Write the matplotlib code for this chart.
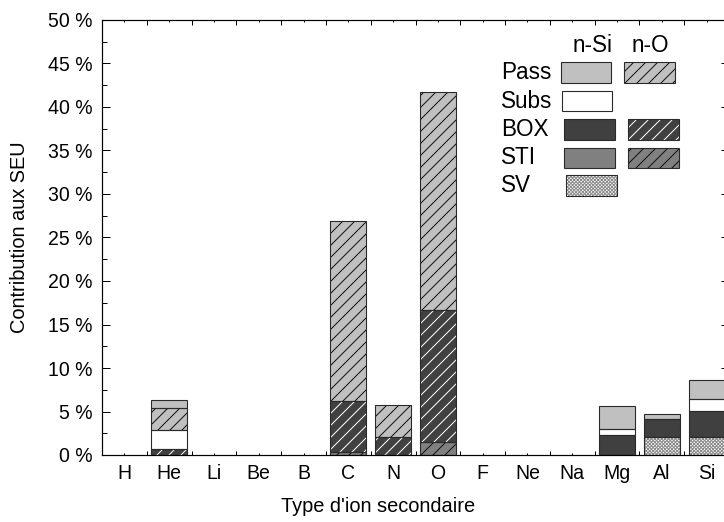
import numpy as np
import matplotlib
matplotlib.use("Agg")
import matplotlib.pyplot as plt
from matplotlib.patches import Rectangle

plt.rcParams['font.family'] = ['Liberation Sans', 'DejaVu Sans']
plt.rcParams['hatch.linewidth'] = 1.0

# ions secondaires (axe x)
ions = ['H', 'He', 'Li', 'Be', 'B', 'C', 'N', 'O', 'F', 'Ne', 'Na', 'Mg', 'Al', 'Si']

# contributions en %, empilées de bas en haut dans cet ordre
sv_si   = [0, 0,    0, 0, 0, 0,     0,    0,     0, 0, 0, 0,    2.1,  2.03]
sti_o   = [0, 0,    0, 0, 0, 0.3,   0,    1.46,  0, 0, 0, 0,    0,    0]
box_o   = [0, 0.65, 0, 0, 0, 5.94,  2.1,  15.24, 0, 0, 0, 0,    0,    0]
box_si  = [0, 0,    0, 0, 0, 0,     0,    0,     0, 0, 0, 2.26, 2.0,  3.03]
subs_si = [0, 2.22, 0, 0, 0, 0,     0,    0,     0, 0, 0, 0.69, 0,    1.34]
pass_o  = [0, 2.5,  0, 0, 0, 20.69, 3.65, 25.0,  0, 0, 0, 0,    0,    0]
pass_si = [0, 0.95, 0, 0, 0, 0,     0,    0,     0, 0, 0, 2.72, 0.58, 2.22]

# style : (couleur de fond, hachure, couleur de hachure)
styles = {
    'pass_si': ('#c0c0c0', None, '#c0c0c0'),
    'pass_o':  ('#c0c0c0', '//', '#111111'),
    'subs_si': ('#ffffff', None, '#ffffff'),
    'box_si':  ('#404040', None, '#404040'),
    'box_o':   ('#404040', '//', '#ffffff'),
    'sti_si':  ('#808080', None, '#808080'),
    'sti_o':   ('#808080', '//', '#111111'),
    'sv_si':   ('#ffffff', 'xxxxxxx', '#8c8c8c'),
}
series = [('sv_si', sv_si), ('sti_o', sti_o), ('box_o', box_o), ('box_si', box_si),
          ('subs_si', subs_si), ('pass_o', pass_o), ('pass_si', pass_si)]

W, H = 724, 522
fig = plt.figure(figsize=(W / 72, H / 72), dpi=72)
ax = fig.add_axes([102 / W, 1 - 455 / H, 627 / W, 435 / H])

x = np.arange(len(ions))
bottom = np.zeros(len(ions))
for name, vals in series:
    vals = np.array(vals, dtype=float)
    m = vals > 0
    fc, hatch, hc = styles[name]
    ax.bar(x[m], vals[m], 0.8, bottom=bottom[m], color=fc, hatch=hatch,
           edgecolor=hc, linewidth=0, zorder=2)
    ax.bar(x[m], vals[m], 0.8, bottom=bottom[m], fill=False,
           edgecolor='#2a2a2a', linewidth=1.1, zorder=3)
    bottom += vals

ax.set_xlim(-0.5, 13.5)
ax.set_ylim(0, 50)
ax.set_xticks(x)
ax.set_xticklabels(ions)
ax.set_xticks(np.arange(-0.5, 14, 1), minor=True)
ax.set_yticks(np.arange(0, 51, 5))
ax.set_yticklabels(['%d %%' % v for v in range(0, 51, 5)])
ax.set_yticks(np.arange(2.5, 50, 5), minor=True)

ax.tick_params(axis='x', which='major', direction='in', length=2, width=1,
               top=True, labelsize=19.5, pad=9)
ax.tick_params(axis='x', which='minor', direction='in', length=4.5, width=1, top=True)
ax.tick_params(axis='y', which='major', direction='in', length=8, width=1,
               right=True, labelsize=19.5, pad=9)
ax.tick_params(axis='y', which='minor', direction='in', length=5, width=1, right=True)
for s in ax.spines.values():
    s.set_linewidth(1.2)

ax.set_xlabel("Type d'ion secondaire", fontsize=20)
ax.xaxis.set_label_coords((378 - 102) / 627, -(507 - 455) / 435)
ax.xaxis.label.set_va('center')
ax.set_ylabel("Contribution aux SEU", fontsize=20)
ax.yaxis.set_label_coords((20 - 102) / 627, 0.5)
ax.yaxis.label.set_va('center')

# légende faite à la main
def px(a, b):
    return a / W, 1 - b / H

def box(x0, x1, y0, y1, name):
    fc, hatch, hc = styles[name]
    a, b = px(x0, y1)
    w, h = (x1 - x0) / W, (y1 - y0) / H
    fig.add_artist(Rectangle((a, b), w, h, transform=fig.transFigure,
                             facecolor=fc, hatch=hatch, edgecolor=hc, linewidth=0))
    fig.add_artist(Rectangle((a, b), w, h, transform=fig.transFigure,
                             fill=False, edgecolor='#2a2a2a', linewidth=1.1))

fs = 22.5
fig.text(*px(593, 45), 'n-Si', fontsize=fs, ha='center', va='center')
fig.text(*px(650, 45), 'n-O', fontsize=fs, ha='center', va='center')
rows = [('Pass', 62, 83, (561, 611, 'pass_si'), (624, 675, 'pass_o')),
        ('Subs', 91, 111, (562, 612, 'subs_si'), None),
        ('BOX', 119, 140, (564, 615, 'box_si'), (628, 679, 'box_o')),
        ('STI', 148, 168, (564, 615, 'sti_si'), (628, 679, 'sti_o')),
        ('SV', 175, 196, (566, 617, 'sv_si'), None)]
for lab, y0, y1, b1, b2 in rows:
    fig.text(*px(501, (y0 + y1) / 2), lab, fontsize=fs, ha='left', va='center')
    box(b1[0], b1[1], y0, y1, b1[2])
    if b2 is not None:
        box(b2[0], b2[1], y0, y1, b2[2])

fig.savefig('out.png', dpi=72)
